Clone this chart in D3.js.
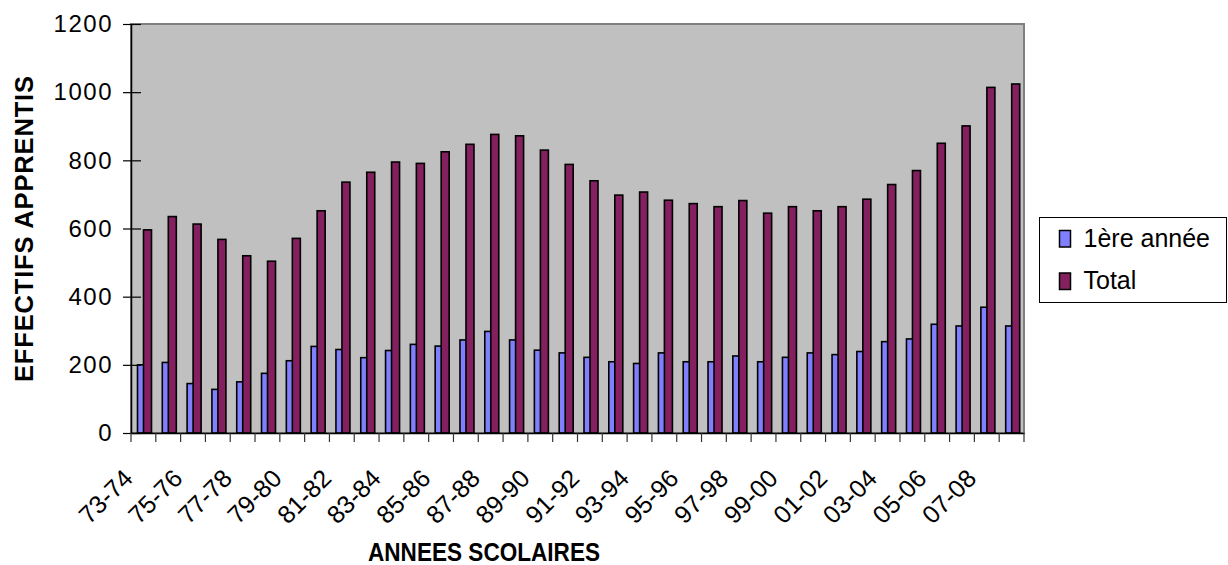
<!DOCTYPE html>
<html>
<head>
<meta charset="utf-8">
<script src="https://cdn.jsdelivr.net/npm/d3@7"></script>
<style>
  body { margin: 0; background: #fff; }
  text { font-family: "Liberation Sans", Arial, sans-serif; fill: #000; }
</style>
</head>
<body>
<svg id="chart" width="1228" height="565"></svg>
<script>
// school years (categories)
const years = [
  "73-74", "74-75", "75-76", "76-77", "77-78", "78-79", "79-80", "80-81", "81-82",
  "82-83", "83-84", "84-85", "85-86", "86-87", "87-88", "88-89", "89-90", "90-91",
  "91-92", "92-93", "93-94", "94-95", "95-96", "96-97", "97-98", "98-99", "99-00",
  "00-01", "01-02", "02-03", "03-04", "04-05", "05-06", "06-07", "07-08", "08-09"
];
// first-year apprentices
const premiere = [
  200, 207, 145, 128, 150, 175, 212, 254, 245, 221, 242, 260,
  255, 273, 298, 273, 243, 235, 222, 209, 204, 235, 209, 209,
  226, 209, 222, 235, 230, 239, 268, 276, 319, 314, 369, 314
];
// total apprentices
const total = [
  596, 635, 613, 568, 520, 504, 571, 652, 736, 765, 795, 791,
  825, 847, 876, 872, 830, 788, 740, 698, 707, 683, 673, 664,
  682, 645, 664, 652, 664, 686, 729, 770, 850, 901, 1014, 1024
];
const yTicks = [0, 200, 400, 600, 800, 1000, 1200];
const seriesNames = ["1ère année", "Total"];
const colors = ["#8080ff", "#84205f"];

const svg = d3.select("#chart");
const pLeft = 131, pRight = 1024, pTop = 24, pBottom = 433;

const x = d3.scaleBand().domain(years).range([pLeft, pRight]).padding(0);
const y = d3.scaleLinear().domain([0, 1200]).range([pBottom, pTop]);

// plot area background
svg.append("rect")
  .attr("x", pLeft).attr("y", pTop)
  .attr("width", pRight - pLeft).attr("height", pBottom - pTop)
  .attr("fill", "#c0c0c0")
  .attr("stroke", "#808080")
  .attr("stroke-width", 2);

// bars (Total drawn over 1ère année, slight overlap)
const bw = x.bandwidth();
const barW = 8;
const offsets = [6.5, 12.5];
[premiere, total].forEach((vals, s) => {
  svg.append("g")
    .selectAll("rect")
    .data(vals)
    .join("rect")
    .attr("x", (d, i) => x(years[i]) + offsets[s])
    .attr("y", d => y(d))
    .attr("width", barW)
    .attr("height", d => y(0) - y(d))
    .attr("fill", colors[s])
    .attr("stroke", "#000")
    .attr("stroke-width", 1.6);
});

// y axis
const yAxis = svg.append("g")
  .attr("transform", `translate(${pLeft},0)`)
  .call(d3.axisLeft(y).tickValues(yTicks).tickFormat(d3.format("d")).tickSize(0).tickPadding(18));
yAxis.select(".domain").attr("stroke", "#000").attr("stroke-width", 1.5);
yAxis.selectAll(".tick text")
  .attr("font-family", null)
  .style("font-size", "24px")
  .style("letter-spacing", "1.5px");
yAxis.selectAll(".tick").append("line")
  .attr("x1", -8).attr("x2", 10)
  .attr("stroke", "#000").attr("stroke-width", 1.2);

// x axis
const xAxis = svg.append("g")
  .attr("transform", `translate(0,${pBottom})`)
  .call(d3.axisBottom(x).tickSize(0).tickFormat(""));
xAxis.select(".domain").attr("stroke", "#000").attr("stroke-width", 1.5);
xAxis.selectAll(".tick").remove();
svg.append("g")
  .selectAll("line")
  .data(years.concat(["end"]))
  .join("line")
  .attr("x1", (d, i) => pLeft + i * bw)
  .attr("x2", (d, i) => pLeft + i * bw)
  .attr("y1", pBottom)
  .attr("y2", pBottom + 9)
  .attr("stroke", "#333")
  .attr("stroke-width", 1.2);

// category labels, every other one
svg.append("g")
  .selectAll("text")
  .data(years.filter((d, i) => i % 2 === 0))
  .join("text")
  .attr("transform", d => `translate(${x(d) + bw / 2 - 9},${pBottom + 47}) rotate(-45)`)
  .attr("text-anchor", "end")
  .style("font-size", "25px")
  .text(d => d);

// axis titles
svg.append("text")
  .attr("x", 484).attr("y", 561)
  .attr("text-anchor", "middle")
  .attr("textLength", 232)
  .attr("lengthAdjust", "spacingAndGlyphs")
  .style("font-size", "25px")
  .style("font-weight", "bold")
  .text("ANNEES SCOLAIRES");

svg.append("text")
  .attr("transform", `translate(33,229) rotate(-90)`)
  .attr("text-anchor", "middle")
  .attr("textLength", 306)
  .attr("lengthAdjust", "spacing")
  .style("font-size", "25.5px")
  .style("font-weight", "bold")
  .text("EFFECTIFS APPRENTIS");

// legend
const lg = svg.append("g");
lg.append("rect")
  .attr("x", 1039.5).attr("y", 217.5)
  .attr("width", 187).attr("height", 85)
  .attr("fill", "#fff")
  .attr("stroke", "#000").attr("stroke-width", 1);
const items = lg.selectAll("g.item")
  .data(seriesNames)
  .join("g")
  .attr("class", "item")
  .attr("transform", (d, i) => `translate(1059.5,${230.5 + i * 42.5})`);
items.append("rect")
  .attr("width", 11).attr("height", 16.5)
  .attr("fill", (d, i) => colors[i])
  .attr("stroke", "#000").attr("stroke-width", 1.5);
items.append("text")
  .attr("x", 24).attr("y", 16)
  .style("font-size", "25px")
  .text(d => d);
</script>
</body>
</html>
